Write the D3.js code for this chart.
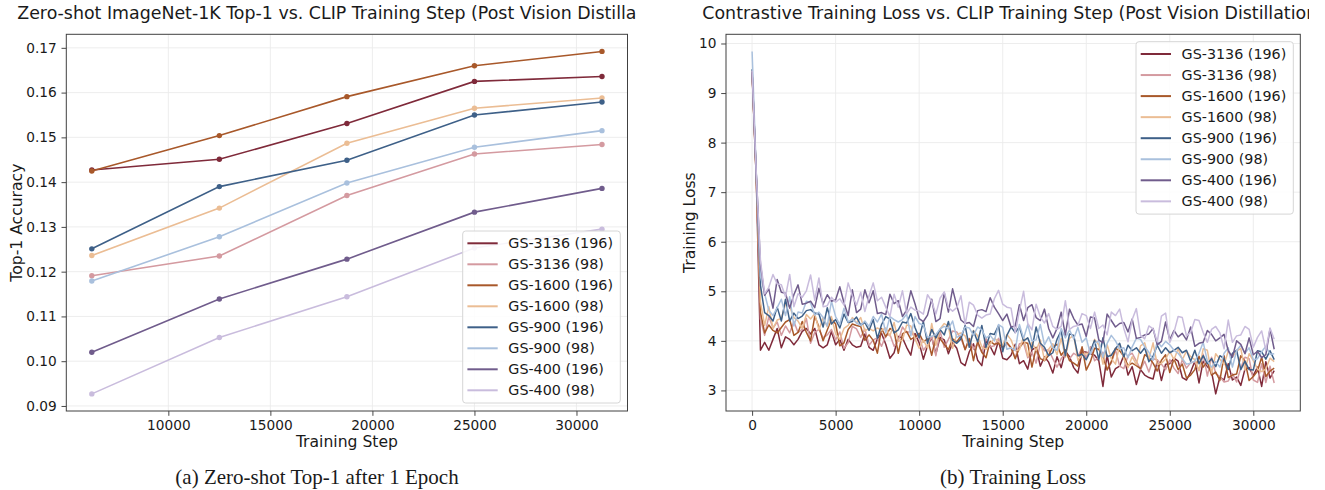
<!DOCTYPE html>
<html>
<head>
<meta charset="utf-8">
<script src="https://cdn.jsdelivr.net/npm/d3@7"></script>
<style>
  html, body { margin: 0; padding: 0; background: #ffffff; }
  svg { display: block; }
  text { font-family: "DejaVu Sans", sans-serif; fill: #1a1a1a; }
  .caption { font-family: "Liberation Serif", "Times New Roman", serif; }
</style>
</head>
<body>
<script>
// ---------- series metadata ----------
const seriesNames = ["GS-3136 (196)", "GS-3136 (98)", "GS-1600 (196)", "GS-1600 (98)",
                     "GS-900 (196)", "GS-900 (98)", "GS-400 (196)", "GS-400 (98)"];
const seriesColors = ["#7f2a3a", "#d49aa0", "#a8582a", "#ebbd94",
                      "#3e6088", "#a9c0dd", "#705c8c", "#c9bcdd"];

// ---------- (a) zero-shot top-1 accuracy at each checkpoint ----------
const evalSteps = [6250, 12500, 18750, 25000, 31250];
const acc3136_196 = [0.1427, 0.1451, 0.1531, 0.1625, 0.1636];
const acc3136_98  = [0.1191, 0.1235, 0.1370, 0.1463, 0.1484];
const acc1600_196 = [0.1425, 0.1504, 0.1591, 0.1660, 0.1692];
const acc1600_98  = [0.1236, 0.1342, 0.1487, 0.1565, 0.1588];
const acc900_196  = [0.1251, 0.1390, 0.1449, 0.1550, 0.1579];
const acc900_98   = [0.1179, 0.1278, 0.1398, 0.1478, 0.1515];
const acc400_196  = [0.1020, 0.1139, 0.1228, 0.1333, 0.1386];
const acc400_98   = [0.0927, 0.1053, 0.1144, 0.1253, 0.1295];
const accXTicks = [10000, 15000, 20000, 25000, 30000];
const accYTicks = [0.09, 0.10, 0.11, 0.12, 0.13, 0.14, 0.15, 0.16, 0.17];

// ---------- (b) contrastive training loss, logged every 250 steps ----------
const logInterval = 250;
const lastStep = 31250;
const loss3136_196 = [
  9.40, 7.25, 3.81, 3.97, 3.81, 4.03, 4.25, 3.86, 4.08, 4.03,
  3.92, 4.03, 4.19, 4.25, 4.14, 4.25, 3.92, 3.86, 3.92, 4.19,
  3.92, 4.03, 3.81, 4.03, 3.92, 3.87, 3.89, 4.14, 3.87, 3.81,
  4.04, 4.15, 3.93, 3.65, 3.76, 4.09, 4.06, 3.87, 3.71, 4.15,
  3.96, 3.63, 3.90, 4.07, 3.74, 4.07, 4.02, 3.74, 3.96, 3.85,
  3.56, 3.50, 3.78, 3.94, 3.61, 3.50, 4.00, 3.89, 3.72, 4.00,
  3.65, 3.62, 3.71, 3.93, 3.54, 3.60, 3.43, 3.82, 3.87, 3.49,
  3.68, 3.57, 3.35, 3.68, 3.46, 3.79, 3.68, 3.46, 3.35, 3.79,
  3.77, 3.74, 3.71, 3.60, 3.08, 3.71, 3.27, 3.44, 3.49, 3.71,
  3.31, 3.48, 3.12, 3.42, 3.31, 3.26, 3.23, 3.59, 3.20, 3.53,
  3.54, 3.65, 3.59, 3.26, 3.21, 3.37, 3.59, 3.15, 3.59, 3.48,
  3.38, 2.93, 3.27, 3.21, 3.54, 3.21, 3.27, 3.10, 3.43, 3.46,
  3.30, 3.47, 3.08, 3.58, 3.25, 3.40];
const loss3136_98 = [
  9.45, 7.30, 4.44, 4.11, 4.49, 4.26, 4.38, 4.11, 4.30, 4.16,
  4.39, 4.17, 4.23, 4.45, 3.95, 4.17, 4.23, 4.06, 4.12, 4.23,
  4.02, 4.18, 3.85, 3.96, 4.29, 4.24, 4.07, 4.24, 3.91, 4.02,
  4.06, 3.89, 4.11, 4.13, 3.89, 4.00, 4.28, 4.17, 4.19, 4.06,
  4.09, 3.81, 3.92, 4.09, 3.70, 4.20, 3.87, 4.03, 4.20, 4.18,
  4.05, 3.83, 4.05, 3.83, 3.94, 3.77, 4.05, 3.88, 3.90, 4.05,
  3.88, 3.94, 3.86, 3.66, 3.94, 3.96, 3.66, 3.77, 3.55, 3.94,
  3.80, 3.82, 3.64, 3.47, 3.64, 3.75, 3.64, 3.75, 3.69, 3.86,
  3.66, 3.88, 3.60, 3.66, 3.77, 3.44, 3.55, 3.82, 3.49, 3.44,
  3.70, 3.75, 3.59, 3.42, 3.59, 3.37, 3.64, 3.62, 3.53, 3.42,
  3.62, 3.45, 3.34, 3.62, 3.45, 3.56, 3.58, 3.40, 3.73, 3.29,
  3.67, 3.34, 3.28, 3.17, 3.19, 3.34, 3.17, 3.45, 3.67, 3.64,
  3.21, 3.16, 3.54, 3.16, 3.49, 3.15];
const loss1600_196 = [
  9.42, 7.28, 4.58, 4.16, 4.32, 4.21, 4.16, 4.27, 4.38, 4.43,
  4.11, 4.17, 4.39, 4.17, 4.00, 4.50, 4.28, 4.00, 4.22, 4.44,
  4.34, 3.90, 3.96, 4.23, 4.34, 4.31, 4.29, 4.01, 4.12, 4.01,
  3.75, 4.25, 4.08, 4.25, 4.19, 3.75, 4.14, 4.19, 4.03, 4.08,
  4.15, 3.98, 4.04, 3.71, 4.09, 4.04, 3.93, 3.82, 4.04, 3.98,
  4.10, 3.82, 4.04, 3.60, 3.99, 3.77, 3.66, 3.99, 3.93, 3.95,
  3.86, 3.97, 3.86, 3.64, 3.86, 3.97, 3.95, 3.47, 3.86, 3.64,
  3.60, 3.71, 3.88, 3.93, 3.71, 3.82, 3.60, 3.55, 3.49, 3.88,
  3.41, 3.58, 3.85, 3.83, 3.69, 3.41, 3.58, 3.85, 3.80, 3.69,
  3.50, 3.55, 3.50, 3.44, 3.72, 3.66, 3.55, 3.39, 3.61, 3.72,
  3.36, 3.64, 3.42, 3.53, 3.25, 3.31, 3.42, 3.69, 3.47, 3.58,
  3.31, 3.37, 3.20, 3.70, 3.26, 3.31, 3.33, 3.70, 3.59, 3.20,
  3.28, 3.39, 3.67, 3.28, 3.39, 3.45];
const loss1600_98 = [
  9.44, 7.32, 4.78, 4.31, 4.69, 4.25, 4.42, 4.45, 4.75, 4.69,
  4.47, 4.40, 4.25, 4.53, 4.44, 4.55, 4.22, 4.47, 4.28, 4.49,
  4.14, 4.03, 4.25, 4.31, 4.47, 4.36, 4.47, 4.20, 4.25, 4.20,
  4.26, 4.21, 4.26, 4.10, 4.37, 3.99, 4.01, 4.32, 4.30, 4.04,
  3.85, 4.02, 3.85, 4.35, 3.91, 4.24, 4.35, 4.29, 3.85, 4.13,
  4.16, 4.10, 3.88, 4.21, 4.10, 3.88, 3.83, 3.94, 4.05, 3.99,
  3.91, 4.13, 4.02, 3.80, 3.82, 4.08, 3.69, 3.97, 3.80, 4.02,
  3.61, 3.83, 3.94, 3.72, 4.05, 3.67, 4.05, 4.11, 3.61, 3.72,
  3.75, 3.73, 4.03, 3.92, 3.53, 3.92, 3.64, 3.53, 3.92, 3.64,
  3.46, 3.68, 3.52, 3.90, 3.96, 3.63, 3.96, 3.52, 3.55, 3.63,
  3.79, 3.62, 3.84, 3.62, 3.79, 3.68, 3.62, 3.40, 3.84, 3.81,
  3.35, 3.74, 3.63, 3.52, 3.79, 3.68, 3.79, 3.85, 3.41, 3.74,
  3.60, 3.43, 3.38, 3.43, 3.65, 3.58];
const loss900_196 = [
  9.48, 7.35, 5.12, 4.57, 4.51, 4.40, 4.68, 4.40, 4.84, 4.40,
  4.56, 4.45, 4.50, 4.61, 4.63, 4.56, 4.54, 4.28, 4.67, 4.34,
  4.43, 4.26, 4.54, 4.37, 4.39, 4.48, 4.32, 4.37, 4.21, 4.43,
  4.05, 4.33, 4.49, 4.44, 4.16, 4.22, 4.38, 4.36, 4.55, 4.27,
  4.06, 4.39, 3.95, 4.23, 4.06, 4.23, 4.12, 4.39, 4.01, 3.95,
  4.04, 4.31, 3.87, 4.20, 3.98, 4.31, 3.87, 4.15, 4.13, 4.31,
  3.78, 4.11, 4.28, 4.17, 4.28, 4.00, 4.06, 3.84, 4.28, 3.95,
  3.87, 3.70, 3.76, 4.03, 4.20, 3.70, 4.14, 4.11, 3.70, 3.73,
  3.62, 3.79, 4.01, 3.62, 4.06, 3.68, 3.71, 3.84, 3.95, 3.68,
  3.91, 3.80, 3.86, 3.75, 3.86, 3.58, 3.69, 3.91, 3.75, 3.86,
  3.76, 3.81, 3.87, 3.76, 3.81, 3.59, 3.81, 3.54, 3.70, 3.54,
  3.64, 3.48, 3.70, 3.64, 3.42, 3.75, 3.81, 3.42, 3.59, 3.42,
  3.41, 3.80, 3.78, 3.63, 3.80, 3.62];
const loss900_98 = [
  9.84, 7.40, 5.30, 4.95, 4.62, 4.51, 4.67, 4.84, 4.51, 4.89,
  4.30, 4.58, 4.56, 4.80, 4.77, 4.52, 4.58, 4.47, 4.30, 4.80,
  4.49, 4.33, 4.66, 4.38, 4.44, 4.36, 4.31, 4.40, 4.29, 4.49,
  4.38, 4.54, 4.16, 4.49, 4.43, 4.38, 4.43, 4.54, 4.10, 4.49,
  4.35, 4.32, 4.07, 4.09, 4.13, 4.24, 4.29, 4.24, 4.40, 4.07,
  4.11, 4.28, 4.26, 4.11, 4.28, 4.22, 4.06, 4.11, 4.00, 4.33,
  4.27, 3.83, 3.86, 3.81, 4.33, 4.05, 4.33, 4.00, 4.02, 4.33,
  3.92, 4.08, 3.86, 3.81, 4.25, 4.06, 4.22, 4.04, 4.27, 3.97,
  4.06, 3.73, 3.95, 4.00, 3.67, 3.95, 4.11, 4.00, 3.84, 3.86,
  3.66, 3.88, 4.05, 4.03, 3.88, 3.77, 3.61, 3.99, 3.88, 3.99,
  3.92, 3.81, 3.75, 3.64, 3.53, 3.55, 3.59, 3.75, 3.97, 3.59,
  3.47, 3.58, 3.47, 3.75, 3.86, 3.47, 3.80, 3.91, 3.75, 3.86,
  3.62, 3.64, 3.78, 3.89, 3.73, 3.74];
const loss400_196 = [
  9.42, 7.36, 5.55, 4.92, 5.05, 4.66, 5.24, 4.98, 4.96, 4.66,
  4.93, 5.13, 4.74, 4.76, 4.80, 4.67, 5.06, 4.74, 4.93, 4.80,
  4.83, 5.09, 4.77, 4.51, 5.03, 4.57, 4.64, 5.03, 4.77, 5.01,
  4.55, 4.57, 4.53, 4.94, 4.75, 4.81, 4.49, 4.62, 5.01, 4.75,
  4.45, 4.39, 4.52, 4.84, 4.39, 4.45, 4.97, 4.58, 5.05, 4.71,
  4.42, 4.35, 4.37, 4.29, 4.61, 4.63, 4.59, 4.87, 4.68, 4.55,
  4.41, 4.54, 4.28, 4.30, 4.73, 4.41, 4.67, 4.73, 4.47, 4.41,
  4.64, 4.25, 4.06, 4.25, 4.58, 4.12, 4.64, 4.45, 4.32, 4.34,
  4.09, 4.48, 4.46, 4.02, 3.96, 4.54, 4.41, 4.28, 4.35, 4.37,
  4.18, 4.44, 4.05, 4.07, 4.12, 4.14, 4.25, 3.92, 3.99, 4.38,
  4.02, 4.21, 4.08, 4.15, 4.02, 4.28, 3.89, 3.95, 3.97, 4.21,
  4.13, 4.00, 4.06, 4.13, 3.80, 3.67, 4.00, 3.93, 3.74, 4.06,
  3.72, 3.79, 3.66, 3.72, 4.24, 3.83];
const loss400_98 = [
  9.45, 7.38, 5.62, 4.95, 5.08, 5.34, 5.15, 5.13, 4.89, 5.34,
  4.69, 4.95, 4.88, 5.01, 5.33, 4.82, 5.27, 4.69, 4.71, 4.88,
  4.78, 4.85, 4.72, 5.17, 4.91, 4.72, 4.98, 4.59, 4.91, 5.17,
  4.81, 4.88, 4.68, 4.49, 4.94, 4.68, 5.01, 4.55, 4.68, 4.62,
  4.60, 4.54, 4.93, 4.80, 4.54, 4.86, 4.99, 4.67, 4.60, 4.67,
  4.91, 4.33, 4.78, 4.72, 4.52, 4.46, 4.52, 4.54, 4.85, 5.02,
  4.74, 4.68, 4.66, 4.16, 4.61, 5.00, 4.35, 4.22, 4.74, 4.48,
  4.36, 4.55, 4.29, 4.23, 4.29, 4.81, 4.23, 4.29, 4.31, 4.55,
  4.51, 4.25, 4.58, 4.25, 4.32, 4.12, 4.58, 4.51, 4.64, 4.25,
  3.98, 4.43, 4.65, 4.11, 4.04, 4.30, 4.24, 3.98, 4.50, 4.56,
  3.97, 4.17, 4.49, 4.47, 4.10, 4.17, 4.43, 4.41, 4.17, 3.97,
  4.23, 4.29, 4.16, 3.84, 4.42, 3.97, 4.10, 4.12, 4.29, 4.23,
  3.87, 4.07, 4.20, 3.81, 4.26, 4.03];
const lossXTicks = [0, 5000, 10000, 15000, 20000, 25000, 30000];
const lossYTicks = [3, 4, 5, 6, 7, 8, 9, 10];

const accSeries  = [acc3136_196, acc3136_98, acc1600_196, acc1600_98, acc900_196, acc900_98, acc400_196, acc400_98];
const lossSeries = [loss3136_196, loss3136_98, loss1600_196, loss1600_98, loss900_196, loss900_98, loss400_196, loss400_98];
const lossSteps = d3.range(0, lastStep + 1, logInterval);

// ---------- layout ----------
const W = 1325, H = 490;
const svg = d3.select("body").append("svg").attr("width", W).attr("height", H);
svg.append("rect").attr("width", W).attr("height", H).attr("fill", "#ffffff");

const TICK_FS = 13.7, LABEL_FS = 15.6, TITLE_FS = 17.4, LEGEND_FS = 14.3;
const TICK_LEN = 4.8, TICK_PAD = 4.8;

function padded(lo, hi) { const m = (hi - lo) * 0.05; return [lo - m, hi + m]; }

function drawPanel(cfg) {
  const { left, right, top, bottom, xDomain, yDomain, xTicks, yTicks, yFmt,
          title, titleClip, xLabel, yLabel, yLabelX, caption, captionX, id } = cfg;
  const x = d3.scaleLinear().domain(xDomain).range([left, right]);
  const y = d3.scaleLinear().domain(yDomain).range([bottom, top]);
  const g = svg.append("g");

  // grid
  g.append("g").selectAll("line").data(xTicks).join("line")
    .attr("x1", d => x(d)).attr("x2", d => x(d)).attr("y1", top).attr("y2", bottom)
    .attr("stroke", "#ebebeb").attr("stroke-width", 0.9);
  g.append("g").selectAll("line").data(yTicks).join("line")
    .attr("x1", left).attr("x2", right).attr("y1", d => y(d)).attr("y2", d => y(d))
    .attr("stroke", "#ebebeb").attr("stroke-width", 0.9);

  // axes via d3-axis
  const xAxis = d3.axisBottom(x).tickValues(xTicks).tickFormat(d3.format("d"))
    .tickSizeInner(TICK_LEN).tickSizeOuter(0).tickPadding(TICK_PAD);
  const yAxis = d3.axisLeft(y).tickValues(yTicks).tickFormat(yFmt)
    .tickSizeInner(TICK_LEN).tickSizeOuter(0).tickPadding(TICK_PAD);
  const gx = g.append("g").attr("transform", `translate(0,${bottom})`).call(xAxis);
  const gy = g.append("g").attr("transform", `translate(${left},0)`).call(yAxis);
  [gx, gy].forEach(a => {
    a.select(".domain").remove();
    a.selectAll(".tick line").attr("stroke", "#333").attr("stroke-width", 0.9);
    a.selectAll(".tick text").attr("font-size", TICK_FS).attr("fill", "#1a1a1a")
      .attr("font-family", "DejaVu Sans");
  });

  const plot = g.append("g").attr("clip-path", `url(#clip-${id})`);
  svg.append("clipPath").attr("id", `clip-${id}`).append("rect")
    .attr("x", left).attr("y", top).attr("width", right - left).attr("height", bottom - top);

  // frame
  g.append("rect").attr("x", left).attr("y", top).attr("width", right - left).attr("height", bottom - top)
    .attr("fill", "none").attr("stroke", "#404040").attr("stroke-width", 1);

  // title (clipped at the subfigure edge)
  svg.append("clipPath").attr("id", `tclip-${id}`).append("rect")
    .attr("x", titleClip[0]).attr("y", 0).attr("width", titleClip[1] - titleClip[0]).attr("height", 30);
  svg.append("text").attr("clip-path", `url(#tclip-${id})`)
    .attr("x", (left + right) / 2).attr("y", 18.5).attr("text-anchor", "middle")
    .attr("font-size", TITLE_FS).text(title);

  svg.append("text").attr("x", (left + right) / 2).attr("y", 447).attr("text-anchor", "middle")
    .attr("font-size", LABEL_FS).text(xLabel);
  svg.append("text").attr("transform", `translate(${yLabelX},${(top + bottom) / 2}) rotate(-90)`)
    .attr("text-anchor", "middle").attr("dominant-baseline", "central")
    .attr("font-size", LABEL_FS).text(yLabel);

  svg.append("text").attr("class", "caption").attr("x", captionX).attr("y", 484)
    .attr("text-anchor", "middle").attr("font-size", 21).text(caption);

  return { x, y, plot };
}

function drawLegend(lx, ly, w, rowGap) {
  const g = svg.append("g");
  const h = rowGap * seriesNames.length + 4;
  g.append("rect").attr("x", lx).attr("y", ly).attr("width", w).attr("height", h)
    .attr("rx", 3).attr("fill", "#ffffff").attr("fill-opacity", 0.85)
    .attr("stroke", "#d6d6d6").attr("stroke-width", 1);
  seriesNames.forEach((name, i) => {
    const cy = ly + 12.3 + i * rowGap;
    g.append("line").attr("x1", lx + 4.7).attr("x2", lx + 35).attr("y1", cy).attr("y2", cy)
      .attr("stroke", seriesColors[i]).attr("stroke-width", 2);
    g.append("text").attr("x", lx + 45.6).attr("y", cy).attr("dominant-baseline", "central")
      .attr("font-size", LEGEND_FS).text(name);
  });
}

// ---------- panel (a) ----------
const accAll = accSeries.flat();
const pa = drawPanel({
  id: "a", left: 66.3, right: 627.5, top: 34.3, bottom: 411,
  xDomain: padded(evalSteps[0], evalSteps[evalSteps.length - 1]),
  yDomain: padded(d3.min(accAll), d3.max(accAll)),
  xTicks: accXTicks, yTicks: accYTicks, yFmt: d3.format(".2f"),
  title: "Zero-shot ImageNet-1K Top-1 vs. CLIP Training Step (Post Vision Distillation)",
  titleClip: [0, 635.7],
  xLabel: "Training Step", yLabel: "Top-1 Accuracy", yLabelX: 17,
  caption: "(a) Zero-shot Top-1 after 1 Epoch", captionX: 317
});
const accLine = d3.line().x((d, i) => pa.x(evalSteps[i])).y(d => pa.y(d));
accSeries.forEach((vals, k) => {
  pa.plot.append("path").datum(vals).attr("d", accLine)
    .attr("fill", "none").attr("stroke", seriesColors[k]).attr("stroke-width", 1.6);
  pa.plot.append("g").selectAll("circle").data(vals).join("circle")
    .attr("cx", (d, i) => pa.x(evalSteps[i])).attr("cy", d => pa.y(d)).attr("r", 2.7)
    .attr("fill", seriesColors[k]);
});
drawLegend(462.7, 231, 157.6, 21);

// ---------- panel (b) ----------
const lossAll = lossSeries.flat();
const pb = drawPanel({
  id: "b", left: 726, right: 1300.3, top: 34.3, bottom: 411,
  xDomain: padded(0, lastStep),
  yDomain: padded(d3.min(lossAll), d3.max(lossAll)),
  xTicks: lossXTicks, yTicks: lossYTicks, yFmt: d3.format("d"),
  title: "Contrastive Training Loss vs. CLIP Training Step (Post Vision Distillation)",
  titleClip: [660, 1309],
  xLabel: "Training Step", yLabel: "Training Loss", yLabelX: 690,
  caption: "(b) Training Loss", captionX: 1013
});
const lossLine = d3.line().x(d => pb.x(d[0])).y(d => pb.y(d[1]));
lossSeries.forEach((vals, k) => {
  const pts = vals.map((v, i) => [lossSteps[i], v]).filter(d => d[0] !== undefined);
  pb.plot.append("path").datum(pts).attr("d", lossLine)
    .attr("fill", "none").attr("stroke", seriesColors[k]).attr("stroke-width", 1.5)
    .attr("stroke-linejoin", "round");
});
drawLegend(1136, 41.7, 157.3, 21.05);
</script>
</body>
</html>
